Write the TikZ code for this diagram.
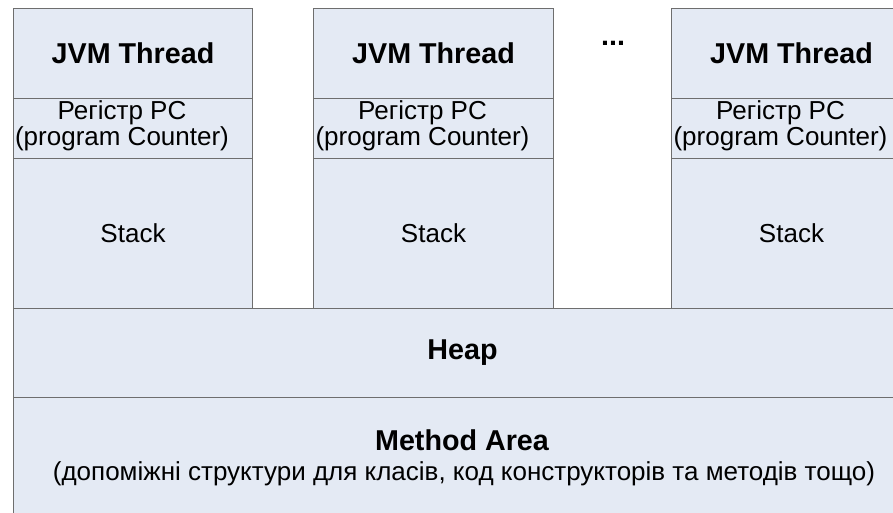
\documentclass[tikz,border=0pt]{standalone}
\usepackage{fontspec}
\setmainfont{Liberation Sans}
\definecolor{cellfill}{RGB}{228,234,244}
\definecolor{cellline}{RGB}{110,110,110}
\tikzset{
  cell/.style={draw=cellline, fill=cellfill, line width=1pt, anchor=north west,
    inner sep=0pt, align=center, text=black},
  boldtxt/.style={font=\fontsize{28.7}{31}\selectfont\bfseries},
  regtxt/.style={font=\fontsize{26}{26}\selectfont},
}
\begin{document}
\begin{tikzpicture}[x=1pt,y=-1pt]
  \useasboundingbox (0,0) rectangle (893,513);
  \clip (0,0) rectangle (893,513);
  \fill[white] (0,0) rectangle (893,513);
  % three thread columns: title, PC register, stack
  \foreach \n/\x/\w in {a/13/239, b/313/240, c/671/240}{
    \node[cell, boldtxt, minimum width=\w pt, minimum height=90pt] (head\n) at (\x,8) {JVM Thread};
    \node[cell, minimum width=\w pt, minimum height=60pt] (pc\n) at (\x,98) {};
    \node[regtxt, align=center, inner sep=0pt] (pctxt\n) at ([xshift=-11pt,yshift=3pt]pc\n.center)
      {Регістр PC\\(program Counter)};
    \node[cell, regtxt, minimum width=\w pt, minimum height=150pt] (stack\n) at (\x,158) {Stack};
  }
  \node[boldtxt, anchor=base] (dots) at (613,46) {...};
  % shared memory areas
  \node[cell, boldtxt, minimum width=898pt, minimum height=89pt] (heap) at (13,308) {Heap};
  \node[cell, minimum width=898pt, minimum height=160pt] (method) at (13,397) {};
  \node[boldtxt, anchor=base] (methodtitle) at (462,450) {Method Area};
  \node[regtxt, anchor=base] (methodnote) at (464,480)
    {(допоміжні структури для класів, код конструкторів та методів тощо)};
\end{tikzpicture}
\end{document}
